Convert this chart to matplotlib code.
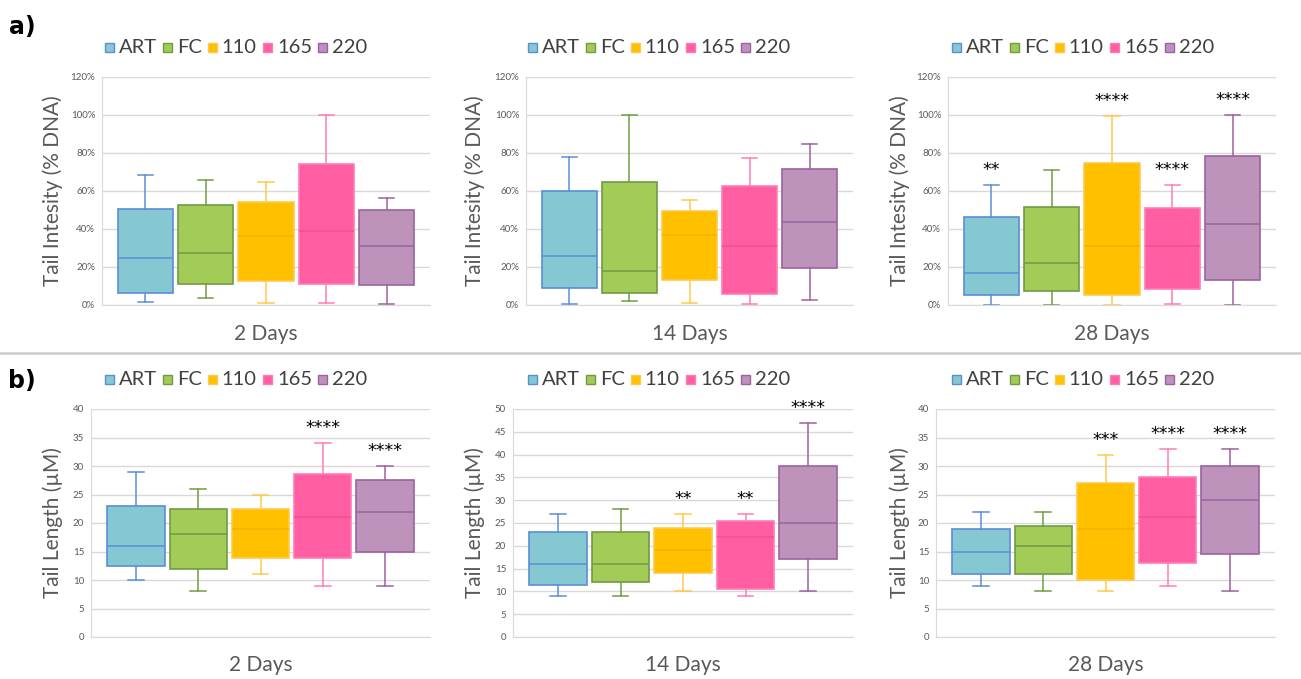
import matplotlib
matplotlib.use("Agg")
import matplotlib.pyplot as plt
from matplotlib.patches import Patch, Rectangle
from matplotlib.legend_handler import HandlerPatch
from matplotlib.ticker import PercentFormatter, MultipleLocator

plt.rcParams['font.family'] = ['Lato', 'DejaVu Sans']

# --------------------------------
# Data
# --------------------------------
groups = ["ART", "FC", "110", "165", "220"]
days = ["2 Days", "14 Days", "28 Days"]

# Tail intensity (% DNA), rows = days, cols = groups
int_lo = [[1.4, 3.5, 1.1, 1.2, 0.5],
          [0.4, 2.1, 1.1, 0.5, 2.6],
          [0.2, 0.0, 0.2, 0.7, 0.0]]
int_q1 = [[6.5, 11.1, 12.7, 11.1, 10.5],
          [8.8, 6.5, 13.2, 5.8, 19.3],
          [5.1, 7.6, 5.3, 8.6, 13.0]]
int_med = [[24.6, 27.2, 36.2, 38.7, 30.8],
           [25.8, 18.1, 36.6, 30.8, 43.6],
           [17.0, 22.0, 30.9, 31.1, 42.7]]
int_q3 = [[50.4, 52.4, 54.0, 74.2, 50.1],
          [59.8, 65.0, 49.4, 62.7, 71.7],
          [46.4, 51.8, 74.5, 51.1, 78.4]]
int_hi = [[68.4, 65.9, 64.9, 100.0, 56.1],
          [77.7, 100.0, 55.2, 77.5, 84.5],
          [63.1, 71.0, 99.5, 63.1, 100.0]]
int_sig = [["", "", "", "", ""],
           ["", "", "", "", ""],
           ["**", "", "****", "****", "****"]]

# Tail length (µM)
len_lo = [[10, 8, 11, 9, 9],
          [9, 9, 10, 9, 10],
          [9, 8, 8, 9, 8]]
len_q1 = [[12.5, 11.9, 13.9, 13.9, 15.0],
          [11.5, 12.0, 14.0, 10.5, 17.0],
          [11.0, 11.0, 10.0, 13.0, 14.5]]
len_med = [[16, 18, 19, 21, 22],
           [16, 16, 19, 22, 25],
           [15, 16, 19, 21, 24]]
len_q3 = [[23.0, 22.5, 22.5, 28.6, 27.5],
          [23.0, 23.0, 24.0, 25.5, 37.5],
          [19.0, 19.5, 27.0, 28.0, 30.0]]
len_hi = [[29, 26, 25, 34, 30],
          [27, 28, 27, 27, 47],
          [22, 22, 32, 33, 33]]
len_sig = [["", "", "", "****", "****"],
           ["", "", "**", "**", "****"],
           ["", "", "***", "****", "****"]]
len_ymax = [40, 50, 40]

# --------------------------------
# Styling
# --------------------------------
fills = ["#86C8D1", "#A3CB58", "#FFC000", "#FF5FA2", "#BD93BC"]
edges = ["#5B8ED6", "#6F9C43", "#FFC94D", "#FF7DB6", "#9C62A0"]
meds = ["#5B8ED6", "#6F9C43", "#F2B400", "#F0508F", "#9C62A0"]
GRID = "#D9D9D9"
TXT = "#595959"

W, H = 1301, 679
fig = plt.figure(figsize=(W / 100, H / 100), dpi=100)


def px_axes(x0, x1, ytop, ybot):
    return fig.add_axes([x0 / W, 1 - ybot / H, (x1 - x0) / W, (ybot - ytop) / H])


def small_square(legend, orig_handle, xdescent, ydescent, width, height, fontsize):
    s = 6.5  # points
    return Rectangle((-xdescent + (width - s) / 2, -ydescent + 0.5), s, s)


def draw_panel(ax, lo, q1, med, q3, hi, sig, ymax, step, pct):
    for i in range(len(groups)):
        st = dict(whislo=lo[i], q1=q1[i], med=med[i], q3=q3[i], whishi=hi[i], fliers=[])
        ax.bxp([st], positions=[i + 1], widths=0.92, capwidths=0.25,
               patch_artist=True, showfliers=False, manage_ticks=False,
               boxprops=dict(facecolor=fills[i], edgecolor=edges[i], lw=1.2),
               whiskerprops=dict(color=edges[i], lw=1.1),
               capprops=dict(color=edges[i], lw=1.1),
               medianprops=dict(color=meds[i], lw=1.1))
        if sig[i]:
            ax.text(i + 1, hi[i] + 0.065 * ymax, sig[i], ha="center", va="center",
                    fontsize=12.5, family="DejaVu Sans", color="black")
    ax.set_xlim(0.28, 5.72)
    ax.set_ylim(0, ymax)
    ax.yaxis.set_major_locator(MultipleLocator(step))
    if pct:
        ax.yaxis.set_major_formatter(PercentFormatter(100, decimals=0))
    ax.set_xticks([])
    ax.set_axisbelow(True)
    ax.yaxis.grid(True, color=GRID, lw=1)
    for s in ["top", "right"]:
        ax.spines[s].set_visible(False)
    for s in ["left", "bottom"]:
        ax.spines[s].set_color(GRID)
    ax.tick_params(axis="y", length=0, labelsize=7, labelcolor=TXT, pad=5)


def legend_at(xc, yc):
    handles = [Patch(facecolor=fills[i], edgecolor=edges[i], lw=1) for i in range(5)]
    fig.legend(handles, groups, loc="center", bbox_to_anchor=(xc / W, 1 - yc / H),
               ncol=5, frameon=False, fontsize=14.5, handlelength=0.45,
               handletextpad=0.25, columnspacing=0.3, labelcolor="#404040",
               handler_map={Patch: HandlerPatch(patch_func=small_square)})


# --------------------------------
# Panels
# --------------------------------
top_x = [(102, 430), (526, 853), (948, 1276)]
bot_x = [(91, 430), (513, 853), (936, 1275)]
leg_x = [236, 659, 1083]
ylab_x = [53, 475, 900]

for d in range(3):
    ax = px_axes(top_x[d][0], top_x[d][1], 77, 305)
    draw_panel(ax, int_lo[d], int_q1[d], int_med[d], int_q3[d], int_hi[d],
               int_sig[d], 120, 20, True)
    legend_at(leg_x[d], 47)
    fig.text(ylab_x[d] / W, 1 - 191 / H, "Tail Intesity (% DNA)", rotation=90,
             ha="center", va="center", fontsize=15, color=TXT)
    fig.text((top_x[d][0] + top_x[d][1]) / 2 / W, 1 - 334 / H, days[d],
             ha="center", va="center", fontsize=15, color=TXT)

    ax = px_axes(bot_x[d][0], bot_x[d][1], 409, 637)
    draw_panel(ax, len_lo[d], len_q1[d], len_med[d], len_q3[d], len_hi[d],
               len_sig[d], len_ymax[d], 5, False)
    legend_at(leg_x[d], 379)
    fig.text(ylab_x[d] / W, 1 - 523 / H, "Tail Length (µM)", rotation=90,
             ha="center", va="center", fontsize=15, color=TXT)
    fig.text((bot_x[d][0] + bot_x[d][1]) / 2 / W, 1 - 665 / H, days[d],
             ha="center", va="center", fontsize=15, color=TXT)

# separator and panel letters
fig.add_artist(plt.Line2D([0, 1], [1 - 352.5 / H] * 2, color="#CCCCCC", lw=1.8,
                          transform=fig.transFigure))
fig.text(22 / W, 1 - 27 / H, "a)", ha="center", va="center", fontsize=17,
         fontweight="bold", family="DejaVu Sans")
fig.text(22 / W, 1 - 381 / H, "b)", ha="center", va="center", fontsize=17,
         fontweight="bold", family="DejaVu Sans")

fig.savefig("out.png", dpi=100)
